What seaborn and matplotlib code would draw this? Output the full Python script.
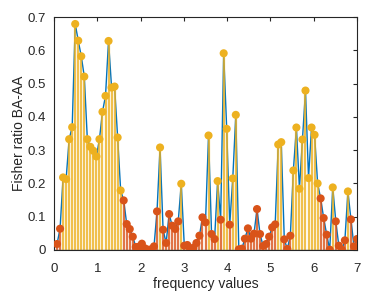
import numpy as np
import pandas as pd
import matplotlib
matplotlib.use("Agg")
import matplotlib.pyplot as plt
import seaborn as sns

# ── Data ──────────────────────────────────────────────────────
step = 0.07
n_points = 100
fisher_ratio = [
    0.018, 0.064, 0.218, 0.213, 0.333, 0.369, 0.679, 0.629, 0.582, 0.521,
    0.333, 0.310, 0.298, 0.281, 0.333, 0.415, 0.463, 0.628, 0.488, 0.491,
    0.338, 0.179, 0.149, 0.078, 0.063, 0.040, 0.009, 0.010, 0.019, 0.005,
    0.001, 0.002, 0.011, 0.116, 0.308, 0.061, 0.021, 0.108, 0.073, 0.063,
    0.086, 0.199, 0.013, 0.015, 0.001, 0.007, 0.021, 0.043, 0.098, 0.083,
    0.344, 0.048, 0.033, 0.207, 0.091, 0.591, 0.364, 0.076, 0.215, 0.406,
    0.002, 0.004, 0.034, 0.065, 0.034, 0.049, 0.123, 0.048, 0.012, 0.018,
    0.040, 0.068, 0.077, 0.317, 0.324, 0.032, 0.003, 0.043, 0.239, 0.368,
    0.184, 0.332, 0.479, 0.216, 0.368, 0.346, 0.200, 0.155, 0.096, 0.046,
    0.001, 0.188, 0.086, 0.013, 0.001, 0.029, 0.176, 0.092, 0.011, 0.033,
]
frequency = [round(step * (i + 1), 2) for i in range(n_points)]
threshold = 0.16

df = pd.DataFrame({"freq": frequency, "fr": fisher_ratio})
df["group"] = np.where(df["fr"] > threshold, "high", "low")

# ── Style ─────────────────────────────────────────────────────
sns.set_theme(style="white")
plt.rcParams["font.family"] = ["Liberation Sans", "DejaVu Sans"]
axis_col = "#262626"
blue, yellow, red = "#0072BD", "#EDB120", "#D95319"
palette = {"high": yellow, "low": red}

fig = plt.figure(figsize=(3.84, 2.96), dpi=100)
ax = fig.add_axes([54 / 384, 46 / 296, 303 / 384, 233 / 296])

# blue connecting line
sns.lineplot(data=df, x="freq", y="fr", color=blue, linewidth=1.0,
             ax=ax, zorder=2, estimator=None, sort=False)

# stems, coloured by group
for grp, sub in df.groupby("group"):
    ax.vlines(sub["freq"], 0, sub["fr"], colors=palette[grp],
              linewidth=1.6, alpha=0.8, zorder=3)
ax.axhline(0, color="#555555", linewidth=1.0, zorder=3)

# markers
sns.scatterplot(data=df, x="freq", y="fr", hue="group", palette=palette,
                s=34, linewidth=0, legend=False, ax=ax, zorder=4)

ax.set_xlim(0, 7)
ax.set_ylim(0, 0.7)
ax.set_xticks(range(0, 8))
ax.set_yticks(np.arange(0, 0.71, 0.1))
ax.set_yticklabels(["0", "0.1", "0.2", "0.3", "0.4", "0.5", "0.6", "0.7"])
ax.set_xlabel("frequency values", fontsize=10, color=axis_col, labelpad=2)
ax.set_ylabel("Fisher ratio BA-AA", fontsize=10, color=axis_col, labelpad=1)

for side in ["left", "right", "top", "bottom"]:
    ax.spines[side].set_visible(True)
    ax.spines[side].set_color(axis_col)
    ax.spines[side].set_linewidth(0.8)
ax.tick_params(direction="in", length=3, width=0.8, colors=axis_col,
               labelsize=9.5, top=True, right=True)
ax.tick_params(axis="x", pad=9)
ax.tick_params(axis="y", pad=6)

fig.savefig("out.png", dpi=100)
